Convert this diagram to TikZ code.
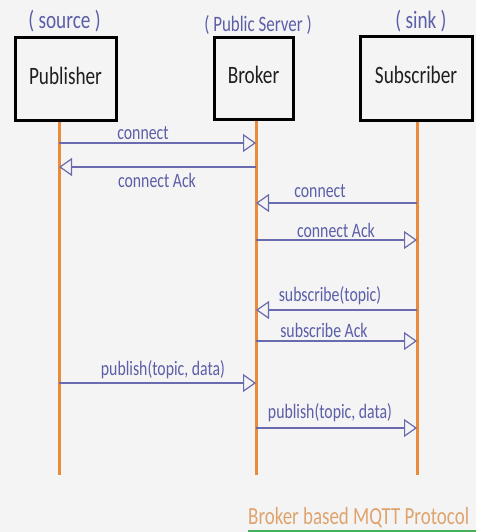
\documentclass[tikz,border=0pt]{standalone}
\usepackage{fontspec}
\setmainfont[FakeStretch=0.77]{Carlito}
\usetikzlibrary{arrows.meta}
\definecolor{bgcol}{HTML}{F4F4F4}
\definecolor{lifecol}{HTML}{E98B3A}
\definecolor{msgcol}{HTML}{6A6AAE}
\definecolor{notecol}{HTML}{5B5EA8}
\definecolor{footcol}{HTML}{DFA36E}
\definecolor{ulinecol}{HTML}{45AE58}

\begin{document}
\begin{tikzpicture}[x=1pt,y=-1pt,
  actor/.style={draw=black, line width=3pt, fill=bgcol, inner sep=0pt,
    text=black!88, text height=18pt, text depth=7.5pt,
    font=\fontsize{25}{27}\selectfont},
  role/.style={text=notecol, inner sep=0pt},
  lifeline/.style={draw=lifecol, line width=3pt},
  message/.style={draw=msgcol, line width=1.3pt,
    -{Triangle[open, length=13pt, width=18pt, line width=1.2pt]}},
  msglabel/.style={text=notecol, inner sep=0pt, font=\fontsize{20.5}{22}\selectfont}
]
% canvas
\fill[bgcol] (0,0) rectangle (476,532);
\useasboundingbox (0,0) rectangle (476,532);

% lifeline ends
\coordinate (pubTop) at (59,120);   \coordinate (pubBot) at (59,475);
\coordinate (brkTop) at (256,120);  \coordinate (brkBot) at (256,475);
\coordinate (subTop) at (417,120);  \coordinate (subBot) at (417,475);
\draw[lifeline] (pubTop) -- (pubBot);
\draw[lifeline] (brkTop) -- (brkBot);
\draw[lifeline] (subTop) -- (subBot);

% participants
\node[actor, minimum width=101pt, minimum height=82pt] (pub) at (65.5,79) {Publisher};
\node[actor, minimum width=79pt, minimum height=81pt] (brk) at (253.5,78.5) {Broker};
\node[actor, minimum width=112pt, minimum height=83pt] (sub) at (416,78.5) {Subscriber};

\node[role, font=\fontsize{25}{27}\selectfont] (pubrole) at (64.5,21) {( source )};
\node[role, font=\fontsize{22}{24}\selectfont] (brkrole) at (258,25) {( Public Server )};
\node[role, font=\fontsize{25}{27}\selectfont] (subrole) at (421,21) {( sink )};

% message anchor points on the lifelines
\coordinate (p1) at (59,143);   \coordinate (b1) at (256,143);
\coordinate (p2) at (59,167);   \coordinate (b2) at (256,167);
\coordinate (b3) at (256,203);  \coordinate (s3) at (417,203);
\coordinate (b4) at (256,240);  \coordinate (s4) at (417,240);
\coordinate (b5) at (256,310);  \coordinate (s5) at (417,310);
\coordinate (b6) at (256,341);  \coordinate (s6) at (417,341);
\coordinate (p7) at (59,383);   \coordinate (b7) at (256,383);
\coordinate (b8) at (256,428);  \coordinate (s8) at (417,428);

% messages
\draw[message] (p1) -- (b1);
\draw[message] (b2) -- (p2);
\draw[message] (s3) -- (b3);
\draw[message] (b4) -- (s4);
\draw[message] (s5) -- (b5);
\draw[message] (b6) -- (s6);
\draw[message] (p7) -- (b7);
\draw[message] (b8) -- (s8);

\node[msglabel] (m1) at (143,133) {connect};
\node[msglabel] (m2) at (157,180) {connect Ack};
\node[msglabel] (m3) at (320,191) {connect};
\node[msglabel] (m4) at (336,230) {connect Ack};
\node[msglabel] (m5) at (330,296) {subscribe(topic)};
\node[msglabel] (m6) at (324,330) {subscribe Ack};
\node[msglabel] (m7) at (163,370) {publish(topic, data)};
\node[msglabel] (m8) at (330,413) {publish(topic, data)};

% caption
\node[anchor=base west, inner sep=0pt, text=footcol, font=\fontsize{24.6}{27}\selectfont]
  (caption) at (248,524) {Broker based MQTT Protocol};
\coordinate (ulStart) at (248,531);
\coordinate (ulEnd) at (476,531);
\draw[ulinecol, line width=2pt] (ulStart) -- (ulEnd);
\end{tikzpicture}
\end{document}
